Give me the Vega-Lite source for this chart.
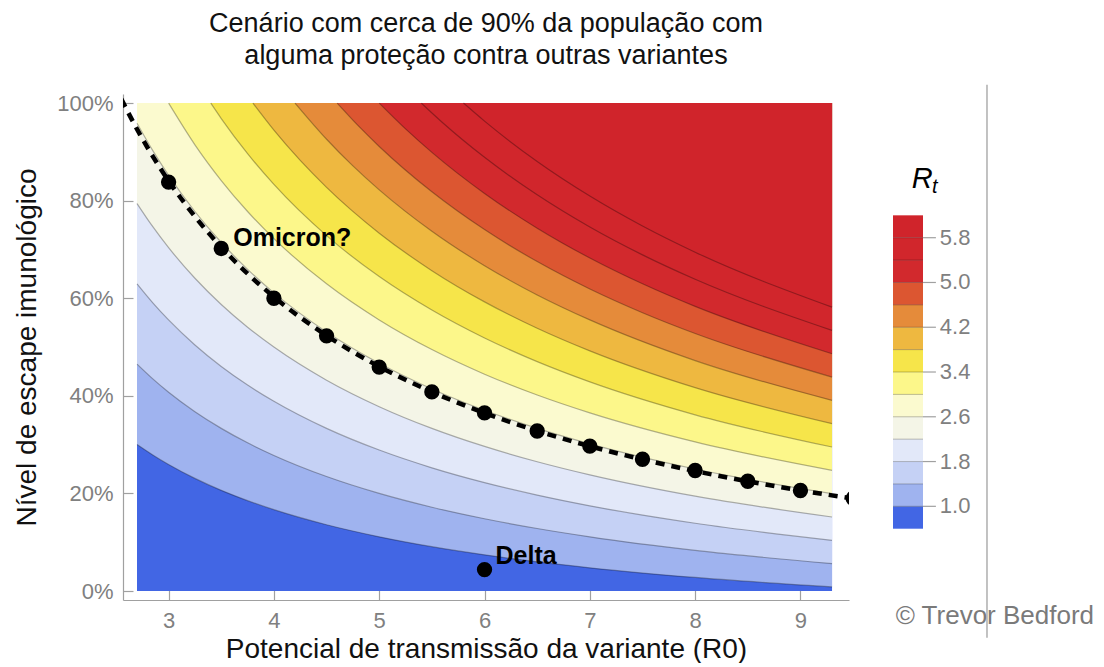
{
  "$schema": "https://vega.github.io/schema/vega-lite/v6.json",
  "padding": {"left": 13, "top": 10, "right": 0, "bottom": 0},
  "background": "white",
  "config": {"font": "Liberation Sans", "view": {"stroke": null}, "axis": {"grid": false}},
  "spacing": 43,
  "datasets": {
    "field": [{"c": 0.6, "r0": 2.7, "r1": 9.3, "e": 0, "e1": 1}],
    "contours": [
      {"c": 1, "r0": 2.7, "e": 0.3004}, {"c": 1, "r0": 2.85, "e": 0.2788}, {"c": 1, "r0": 3, "e": 0.2593}, {"c": 1, "r0": 3.25, "e": 0.2308}, {"c": 1, "r0": 3.5, "e": 0.2063}, {"c": 1, "r0": 3.75, "e": 0.1852}, {"c": 1, "r0": 4, "e": 0.1667}, {"c": 1, "r0": 4.5, "e": 0.1358}, {"c": 1, "r0": 5, "e": 0.1111}, {"c": 1, "r0": 5.5, "e": 0.0909}, {"c": 1, "r0": 6, "e": 0.0741}, {"c": 1, "r0": 6.5, "e": 0.0598}, {"c": 1, "r0": 7, "e": 0.0476}, {"c": 1, "r0": 8, "e": 0.0278}, {"c": 1, "r0": 9.3, "e": 0.0084},
      {"c": 1.4, "r0": 2.7, "e": 0.465}, {"c": 1.4, "r0": 2.85, "e": 0.4347}, {"c": 1.4, "r0": 3, "e": 0.4074}, {"c": 1.4, "r0": 3.25, "e": 0.3675}, {"c": 1.4, "r0": 3.5, "e": 0.3333}, {"c": 1.4, "r0": 3.75, "e": 0.3037}, {"c": 1.4, "r0": 4, "e": 0.2778}, {"c": 1.4, "r0": 4.5, "e": 0.2346}, {"c": 1.4, "r0": 5, "e": 0.2}, {"c": 1.4, "r0": 5.5, "e": 0.1717}, {"c": 1.4, "r0": 6, "e": 0.1481}, {"c": 1.4, "r0": 6.5, "e": 0.1282}, {"c": 1.4, "r0": 7, "e": 0.1111}, {"c": 1.4, "r0": 8, "e": 0.0833}, {"c": 1.4, "r0": 9.3, "e": 0.0562},
      {"c": 1.8, "r0": 2.7, "e": 0.6296}, {"c": 1.8, "r0": 2.85, "e": 0.5906}, {"c": 1.8, "r0": 3, "e": 0.5556}, {"c": 1.8, "r0": 3.25, "e": 0.5043}, {"c": 1.8, "r0": 3.5, "e": 0.4603}, {"c": 1.8, "r0": 3.75, "e": 0.4222}, {"c": 1.8, "r0": 4, "e": 0.3889}, {"c": 1.8, "r0": 4.5, "e": 0.3333}, {"c": 1.8, "r0": 5, "e": 0.2889}, {"c": 1.8, "r0": 5.5, "e": 0.2525}, {"c": 1.8, "r0": 6, "e": 0.2222}, {"c": 1.8, "r0": 6.5, "e": 0.1966}, {"c": 1.8, "r0": 7, "e": 0.1746}, {"c": 1.8, "r0": 8, "e": 0.1389}, {"c": 1.8, "r0": 9.3, "e": 0.1039},
      {"c": 2.2, "r0": 2.7, "e": 0.7942}, {"c": 2.2, "r0": 2.85, "e": 0.7466}, {"c": 2.2, "r0": 3, "e": 0.7037}, {"c": 2.2, "r0": 3.25, "e": 0.641}, {"c": 2.2, "r0": 3.5, "e": 0.5873}, {"c": 2.2, "r0": 3.75, "e": 0.5407}, {"c": 2.2, "r0": 4, "e": 0.5}, {"c": 2.2, "r0": 4.5, "e": 0.4321}, {"c": 2.2, "r0": 5, "e": 0.3778}, {"c": 2.2, "r0": 5.5, "e": 0.3333}, {"c": 2.2, "r0": 6, "e": 0.2963}, {"c": 2.2, "r0": 6.5, "e": 0.265}, {"c": 2.2, "r0": 7, "e": 0.2381}, {"c": 2.2, "r0": 8, "e": 0.1944}, {"c": 2.2, "r0": 9.3, "e": 0.1517},
      {"c": 2.6, "r0": 2.7, "e": 0.9588}, {"c": 2.6, "r0": 2.85, "e": 0.9025}, {"c": 2.6, "r0": 3, "e": 0.8519}, {"c": 2.6, "r0": 3.25, "e": 0.7778}, {"c": 2.6, "r0": 3.5, "e": 0.7143}, {"c": 2.6, "r0": 3.75, "e": 0.6593}, {"c": 2.6, "r0": 4, "e": 0.6111}, {"c": 2.6, "r0": 4.5, "e": 0.5309}, {"c": 2.6, "r0": 5, "e": 0.4667}, {"c": 2.6, "r0": 5.5, "e": 0.4141}, {"c": 2.6, "r0": 6, "e": 0.3704}, {"c": 2.6, "r0": 6.5, "e": 0.3333}, {"c": 2.6, "r0": 7, "e": 0.3016}, {"c": 2.6, "r0": 8, "e": 0.25}, {"c": 2.6, "r0": 9.3, "e": 0.1995},
      {"c": 3, "r0": 3, "e": 1}, {"c": 3, "r0": 3.25, "e": 0.9145}, {"c": 3, "r0": 3.5, "e": 0.8413}, {"c": 3, "r0": 3.75, "e": 0.7778}, {"c": 3, "r0": 4, "e": 0.7222}, {"c": 3, "r0": 4.5, "e": 0.6296}, {"c": 3, "r0": 5, "e": 0.5556}, {"c": 3, "r0": 5.5, "e": 0.4949}, {"c": 3, "r0": 6, "e": 0.4444}, {"c": 3, "r0": 6.5, "e": 0.4017}, {"c": 3, "r0": 7, "e": 0.3651}, {"c": 3, "r0": 8, "e": 0.3056}, {"c": 3, "r0": 9.3, "e": 0.2473},
      {"c": 3.4, "r0": 3.4, "e": 1}, {"c": 3.4, "r0": 3.5, "e": 0.9683}, {"c": 3.4, "r0": 3.75, "e": 0.8963}, {"c": 3.4, "r0": 4, "e": 0.8333}, {"c": 3.4, "r0": 4.5, "e": 0.7284}, {"c": 3.4, "r0": 5, "e": 0.6444}, {"c": 3.4, "r0": 5.5, "e": 0.5758}, {"c": 3.4, "r0": 6, "e": 0.5185}, {"c": 3.4, "r0": 6.5, "e": 0.4701}, {"c": 3.4, "r0": 7, "e": 0.4286}, {"c": 3.4, "r0": 8, "e": 0.3611}, {"c": 3.4, "r0": 9.3, "e": 0.2951},
      {"c": 3.8, "r0": 3.8, "e": 1}, {"c": 3.8, "r0": 4, "e": 0.9444}, {"c": 3.8, "r0": 4.25, "e": 0.8824}, {"c": 3.8, "r0": 4.5, "e": 0.8272}, {"c": 3.8, "r0": 5, "e": 0.7333}, {"c": 3.8, "r0": 5.5, "e": 0.6566}, {"c": 3.8, "r0": 6, "e": 0.5926}, {"c": 3.8, "r0": 6.5, "e": 0.5385}, {"c": 3.8, "r0": 7, "e": 0.4921}, {"c": 3.8, "r0": 8, "e": 0.4167}, {"c": 3.8, "r0": 9.3, "e": 0.3429},
      {"c": 4.2, "r0": 4.2, "e": 1}, {"c": 4.2, "r0": 4.5, "e": 0.9259}, {"c": 4.2, "r0": 4.75, "e": 0.8713}, {"c": 4.2, "r0": 5, "e": 0.8222}, {"c": 4.2, "r0": 5.5, "e": 0.7374}, {"c": 4.2, "r0": 6, "e": 0.6667}, {"c": 4.2, "r0": 6.5, "e": 0.6068}, {"c": 4.2, "r0": 7, "e": 0.5556}, {"c": 4.2, "r0": 8, "e": 0.4722}, {"c": 4.2, "r0": 9.3, "e": 0.3907},
      {"c": 4.6, "r0": 4.6, "e": 1}, {"c": 4.6, "r0": 4.8, "e": 0.9537}, {"c": 4.6, "r0": 5, "e": 0.9111}, {"c": 4.6, "r0": 5.5, "e": 0.8182}, {"c": 4.6, "r0": 6, "e": 0.7407}, {"c": 4.6, "r0": 6.5, "e": 0.6752}, {"c": 4.6, "r0": 7, "e": 0.619}, {"c": 4.6, "r0": 7.5, "e": 0.5704}, {"c": 4.6, "r0": 8, "e": 0.5278}, {"c": 4.6, "r0": 9.3, "e": 0.4385},
      {"c": 5, "r0": 5, "e": 1}, {"c": 5, "r0": 5.25, "e": 0.9471}, {"c": 5, "r0": 5.5, "e": 0.899}, {"c": 5, "r0": 6, "e": 0.8148}, {"c": 5, "r0": 6.5, "e": 0.7436}, {"c": 5, "r0": 7, "e": 0.6825}, {"c": 5, "r0": 7.5, "e": 0.6296}, {"c": 5, "r0": 8, "e": 0.5833}, {"c": 5, "r0": 9.3, "e": 0.4863},
      {"c": 5.4, "r0": 5.4, "e": 1}, {"c": 5.4, "r0": 5.6, "e": 0.9603}, {"c": 5.4, "r0": 6, "e": 0.8889}, {"c": 5.4, "r0": 6.5, "e": 0.812}, {"c": 5.4, "r0": 7, "e": 0.746}, {"c": 5.4, "r0": 7.5, "e": 0.6889}, {"c": 5.4, "r0": 8, "e": 0.6389}, {"c": 5.4, "r0": 9.3, "e": 0.5341},
      {"c": 5.8, "r0": 5.8, "e": 1}, {"c": 5.8, "r0": 6, "e": 0.963}, {"c": 5.8, "r0": 6.5, "e": 0.8803}, {"c": 5.8, "r0": 7, "e": 0.8095}, {"c": 5.8, "r0": 7.5, "e": 0.7481}, {"c": 5.8, "r0": 8, "e": 0.6944}, {"c": 5.8, "r0": 9.3, "e": 0.5818}
    ],
    "omiLine": [
      {"r0": 2.55, "e": 1.0087}, {"r0": 2.7, "e": 0.9465}, {"r0": 2.85, "e": 0.8908}, {"r0": 3, "e": 0.8407}, {"r0": 3.25, "e": 0.7675}, {"r0": 3.5, "e": 0.7048}, {"r0": 3.75, "e": 0.6504}, {"r0": 4, "e": 0.6028}, {"r0": 4.5, "e": 0.5235}, {"r0": 5, "e": 0.46}, {"r0": 5.5, "e": 0.4081}, {"r0": 6, "e": 0.3648}, {"r0": 6.5, "e": 0.3282}, {"r0": 7, "e": 0.2968}, {"r0": 7.5, "e": 0.2696}, {"r0": 8, "e": 0.2458}, {"r0": 8.5, "e": 0.2248}, {"r0": 9, "e": 0.2062}, {"r0": 9.5, "e": 0.1895}
    ],
    "omiDots": [
      {"r0": 3, "e": 0.838}, {"r0": 3.5, "e": 0.702}, {"r0": 4, "e": 0.6}, {"r0": 4.5, "e": 0.523}, {"r0": 5, "e": 0.459}, {"r0": 5.5, "e": 0.408}, {"r0": 6, "e": 0.365}, {"r0": 6.5, "e": 0.328}, {"r0": 7, "e": 0.297}, {"r0": 7.5, "e": 0.27}, {"r0": 8, "e": 0.247}, {"r0": 8.5, "e": 0.225}, {"r0": 9, "e": 0.206}, {"r0": 9.5, "e": 0.19}
    ],
    "delta": [{"r0": 6, "e": 0.044, "label": "Delta"}],
    "omiLabel": [{"r0": 3.5, "e": 0.702, "label": "Omicron?"}],
    "legend": [
      {"c": 0.6, "lo": 0.6, "hi": 1}, {"c": 1, "lo": 1, "hi": 1.4}, {"c": 1.4, "lo": 1.4, "hi": 1.8}, {"c": 1.8, "lo": 1.8, "hi": 2.2}, {"c": 2.2, "lo": 2.2, "hi": 2.6}, {"c": 2.6, "lo": 2.6, "hi": 3}, {"c": 3, "lo": 3, "hi": 3.4}, {"c": 3.4, "lo": 3.4, "hi": 3.8}, {"c": 3.8, "lo": 3.8, "hi": 4.2}, {"c": 4.2, "lo": 4.2, "hi": 4.6}, {"c": 4.6, "lo": 4.6, "hi": 5}, {"c": 5, "lo": 5, "hi": 5.4}, {"c": 5.4, "lo": 5.4, "hi": 5.8}, {"c": 5.8, "lo": 5.8, "hi": 6.2}
    ]
  },
  "hconcat": [
    {
      "width": 726,
      "height": 506,
      "title": {
        "text": ["Cenário com cerca de 90% da população com", "alguma proteção contra outras variantes"],
        "fontSize": 27, "lineHeight": 32, "fontWeight": "normal", "color": "#111111", "anchor": "middle", "offset": 22
      },
      "encoding": {
        "x": {
          "field": "r0", "type": "quantitative",
          "scale": {"domain": [2.567, 9.461], "nice": false, "zero": false},
          "axis": {
            "values": [3, 4, 5, 6, 7, 8, 9], "tickSize": -10, "labelPadding": 20, "labelFontSize": 22, "labelColor": "#808080",
            "tickColor": "#a0a0a0", "domainColor": "#a0a0a0", "domainWidth": 1.2, "tickWidth": 1.2, "labelFlush": false,
            "title": "Potencial de transmissão da variante (R0)", "titleFontSize": 28, "titleFontWeight": "normal",
            "titleColor": "#111111", "titlePadding": 4, "grid": false
          }
        },
        "y": {
          "field": "e", "type": "quantitative",
          "scale": {"domain": [-0.0184, 1.0186], "nice": false, "zero": false},
          "axis": {
            "values": [0, 0.2, 0.4, 0.6, 0.8, 1], "format": ".0%", "tickSize": -10, "labelPadding": 20, "labelFontSize": 22,
            "labelColor": "#808080", "tickColor": "#a0a0a0", "domainColor": "#a0a0a0", "domainWidth": 1.2, "tickWidth": 1.2,
            "labelFlush": false, "title": "Nível de escape imunológico", "titleFontSize": 28, "titleFontWeight": "normal",
            "titleColor": "#111111", "titlePadding": 15, "grid": false
          }
        }
      },
      "layer": [
        {
          "data": {"name": "field"},
          "mark": {"type": "rect"},
          "encoding": {
            "x2": {"field": "r1"}, "y2": {"field": "e1"},
            "color": {"field": "c", "type": "nominal", "legend": null,
              "scale": {"domain": [0.6, 1, 1.4, 1.8, 2.2, 2.6, 3, 3.4, 3.8, 4.2, 4.6, 5, 5.4, 5.8],
                "range": ["#4266e4", "#9fb3ef", "#c5d1f5", "#e2e8f9", "#f4f5e7", "#fbfacf", "#fcf78a", "#f6e54a", "#eeb840", "#e58b3a", "#dc5631", "#d2292d", "#d1262c", "#d0242b"]}}
          }
        },
        {
          "data": {"name": "contours"},
          "mark": {"type": "area", "interpolate": "monotone", "clip": true, "opacity": 1},
          "encoding": {
            "y2": {"datum": 1},
            "color": {"field": "c", "type": "nominal", "legend": null,
              "scale": {"domain": [0.6, 1, 1.4, 1.8, 2.2, 2.6, 3, 3.4, 3.8, 4.2, 4.6, 5, 5.4, 5.8],
                "range": ["#4266e4", "#9fb3ef", "#c5d1f5", "#e2e8f9", "#f4f5e7", "#fbfacf", "#fcf78a", "#f6e54a", "#eeb840", "#e58b3a", "#dc5631", "#d2292d", "#d1262c", "#d0242b"]}}
          }
        },
        {
          "data": {"name": "contours"},
          "mark": {"type": "line", "interpolate": "monotone", "clip": true, "color": "#000000", "opacity": 0.3, "strokeWidth": 1.2},
          "encoding": {"detail": {"field": "c", "type": "nominal"}}
        },
        {
          "data": {"name": "omiLine"},
          "mark": {"type": "line", "interpolate": "monotone", "clip": true, "color": "#000000", "strokeWidth": 4.5, "strokeDash": [9, 7]},
          "encoding": {}
        },
        {
          "data": {"name": "omiDots"},
          "mark": {"type": "circle", "clip": true, "color": "#000000", "opacity": 1, "size": 235},
          "encoding": {}
        },
        {
          "data": {"name": "delta"},
          "mark": {"type": "circle", "color": "#000000", "opacity": 1, "size": 235},
          "encoding": {}
        },
        {
          "data": {"name": "delta"},
          "mark": {"type": "text", "fontWeight": "bold", "fontSize": 25, "align": "left", "baseline": "alphabetic", "color": "#000000", "dx": 11, "dy": -6},
          "encoding": {"text": {"field": "label"}}
        },
        {
          "data": {"name": "omiLabel"},
          "mark": {"type": "text", "fontWeight": "bold", "fontSize": 25, "align": "left", "baseline": "alphabetic", "color": "#000000", "dx": 12, "dy": -2},
          "encoding": {"text": {"field": "label"}}
        }
      ]
    },
    {
      "width": 210,
      "height": 506,
      "data": {"name": "legend"},
      "layer": [
        {
          "mark": {"type": "rect"},
          "encoding": {
            "x": {"datum": 0, "type": "quantitative", "scale": {"domain": [0, 7], "nice": false, "zero": false}, "axis": null},
            "x2": {"datum": 1},
            "y": {"field": "lo", "type": "quantitative", "scale": {"domain": [-0.674, 8.368], "nice": false, "zero": false}, "axis": null},
            "y2": {"field": "hi"},
            "color": {"field": "c", "type": "nominal", "legend": null,
              "scale": {"domain": [0.6, 1, 1.4, 1.8, 2.2, 2.6, 3, 3.4, 3.8, 4.2, 4.6, 5, 5.4, 5.8],
                "range": ["#4266e4", "#9fb3ef", "#c5d1f5", "#e2e8f9", "#f4f5e7", "#fbfacf", "#fcf78a", "#f6e54a", "#eeb840", "#e58b3a", "#dc5631", "#d2292d", "#d1262c", "#d0242b"]}}
          }
        },
        {
          "transform": [{"filter": "datum.lo >= 1"}],
          "mark": {"type": "rule", "color": "#000000", "opacity": 0.25, "strokeWidth": 1},
          "encoding": {
            "x": {"datum": 0, "type": "quantitative", "axis": null},
            "x2": {"datum": 1},
            "y": {"field": "lo", "type": "quantitative", "axis": null}
          }
        },
        {
          "transform": [{"filter": "indexof([1, 1.8, 2.6, 3.4, 4.2, 5, 5.8], datum.lo) >= 0"}],
          "mark": {"type": "rule", "color": "#a0a0a0", "strokeWidth": 1.2},
          "encoding": {
            "x": {"datum": 1, "type": "quantitative", "axis": null},
            "x2": {"datum": 1.43},
            "y": {"field": "lo", "type": "quantitative", "axis": null}
          }
        },
        {
          "transform": [{"filter": "indexof([1, 1.8, 2.6, 3.4, 4.2, 5, 5.8], datum.lo) >= 0"}],
          "mark": {"type": "text", "fontSize": 22, "align": "left", "baseline": "middle", "color": "#808080"},
          "encoding": {
            "x": {"datum": 1.56, "type": "quantitative", "axis": null},
            "y": {"field": "lo", "type": "quantitative", "axis": null},
            "text": {"field": "lo", "type": "quantitative", "format": ".1f"}
          }
        },
        {
          "data": {"values": [{"txt": "R"}]},
          "mark": {"type": "text", "fontSize": 29, "fontStyle": "italic", "align": "right", "baseline": "alphabetic", "color": "#000000"},
          "encoding": {
            "x": {"datum": 1.32, "type": "quantitative", "axis": null},
            "y": {"datum": 6.69, "type": "quantitative", "axis": null},
            "text": {"field": "txt"}
          }
        },
        {
          "data": {"values": [{"txt": "t"}]},
          "mark": {"type": "text", "fontSize": 20, "fontStyle": "italic", "align": "left", "baseline": "alphabetic", "color": "#000000"},
          "encoding": {
            "x": {"datum": 1.3, "type": "quantitative", "axis": null},
            "y": {"datum": 6.6, "type": "quantitative", "axis": null},
            "text": {"field": "txt"}
          }
        },
        {
          "data": {"values": [{"txt": "© Trevor Bedford"}]},
          "mark": {"type": "text", "fontSize": 26, "align": "left", "baseline": "alphabetic", "color": "#7a7a7a"},
          "encoding": {
            "x": {"datum": 0.09, "type": "quantitative", "axis": null},
            "y": {"datum": -1.098, "type": "quantitative", "axis": null},
            "text": {"field": "txt"}
          }
        },
        {
          "data": {"values": [{"txt": "line"}]},
          "mark": {"type": "rule", "color": "#9a9a9a", "strokeWidth": 1.2},
          "encoding": {
            "x": {"datum": 3.133, "type": "quantitative", "axis": null},
            "y": {"datum": 8.534, "type": "quantitative", "axis": null},
            "y2": {"datum": -1.348}
          }
        }
      ]
    }
  ]
}
